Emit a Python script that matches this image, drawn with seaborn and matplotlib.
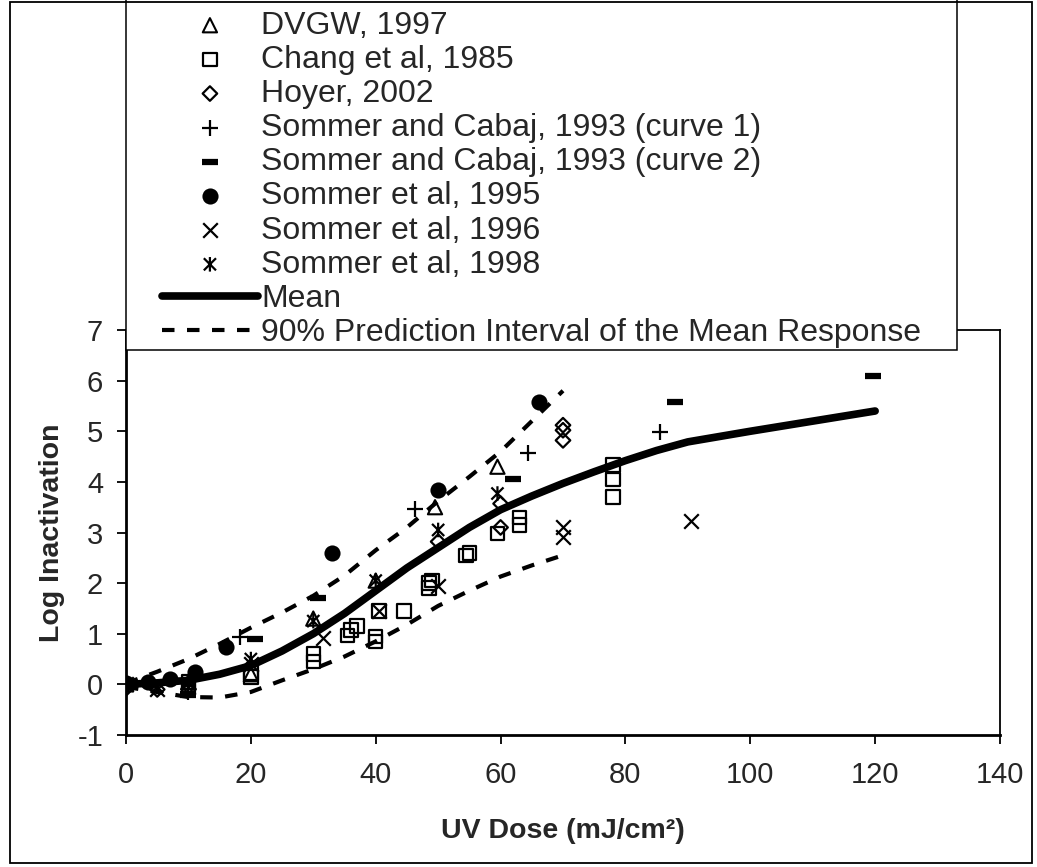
import matplotlib
matplotlib.use('Agg')
import matplotlib.pyplot as plt
import seaborn as sns
import numpy as np
import pandas as pd
from matplotlib.path import Path
from matplotlib.patches import Rectangle
from matplotlib.lines import Line2D

# Data
dvgw_x = [0, 10, 20, 30, 40, 49.5, 59.5]
dvgw_y = [0, 0.05, 0.2, 1.3, 2.05, 3.5, 4.3]

chang_x = [10, 10, 20, 20, 30, 30, 35.5, 36, 37, 40, 40, 40.5, 44.5, 48.5, 48.5, 49, 54.5, 55, 59.5, 63, 63, 78, 78, 78]
chang_y = [0.05, -0.05, 0.15, 0.22, 0.45, 0.6, 0.97, 1.07, 1.15, 0.85, 0.95, 1.45, 1.45, 1.9, 2.0, 2.05, 2.55, 2.6, 2.98, 3.15, 3.3, 3.7, 4.05, 4.33]

hoyer_x = [0, 5, 10, 50, 60, 60, 70, 70, 70]
hoyer_y = [-0.08, -0.1, -0.1, 2.82, 3.1, 3.57, 4.82, 5.02, 5.12]

cabaj1_x = [0, 10, 18.3, 46.3, 64.4, 85.5]
cabaj1_y = [0, -0.15, 0.93, 3.47, 4.58, 4.98]

cabaj2_x = [0, 10, 20.7, 30.8, 62, 88, 119.7]
cabaj2_y = [0, -0.2, 0.9, 1.71, 4.05, 5.57, 6.1]

s1995_x = [0, 3.5, 7, 11, 16, 33, 50, 66.2]
s1995_y = [0.02, 0.05, 0.1, 0.24, 0.73, 2.6, 3.84, 5.58]

s1996_x = [0, 5, 10, 20, 31.5, 40.5, 50, 70, 70, 90.5]
s1996_y = [0, -0.1, -0.05, 0.4, 0.92, 1.45, 1.95, 2.92, 3.1, 3.22]

s1998_x = [0, 5, 10, 20, 30, 40, 50, 59.5]
s1998_y = [0, -0.05, 0.02, 0.5, 1.25, 2.05, 3.05, 3.77]

mean_x = [0, 5, 10, 15, 20, 25, 30, 35, 40, 45, 50, 55, 60, 65, 70, 75, 80, 85, 90, 100, 110, 120]
mean_y = [0, 0.03, 0.08, 0.2, 0.37, 0.66, 1.0, 1.4, 1.85, 2.3, 2.7, 3.1, 3.45, 3.72, 3.97, 4.2, 4.42, 4.62, 4.79, 5.0, 5.2, 5.4]

pi_x = [0, 5, 10, 15, 20, 25, 30, 35, 40, 45, 50, 55, 60, 65, 70]
upper_y = [0.02, 0.25, 0.5, 0.8, 1.12, 1.42, 1.75, 2.15, 2.65, 3.1, 3.62, 4.1, 4.6, 5.2, 5.8]
lower_y = [-0.05, -0.15, -0.25, -0.26, -0.15, 0.08, 0.3, 0.55, 0.85, 1.18, 1.55, 1.85, 2.13, 2.35, 2.55]

x_ticks = [0, 20, 40, 60, 80, 100, 120, 140]
y_ticks = [-1, 0, 1, 2, 3, 4, 5, 6, 7]

sns.set_style('white')
plt.rcParams['font.family'] = ['Liberation Sans', 'DejaVu Sans']
plt.rcParams['axes.unicode_minus'] = False

# Excel style asterisk: an X with a vertical bar
asterisk = Path([(-1, -1), (1, 1), (-1, 1), (1, -1), (0, -1.2), (0, 1.2)],
                [Path.MOVETO, Path.LINETO, Path.MOVETO, Path.LINETO, Path.MOVETO, Path.LINETO])

fig = plt.figure(figsize=(10.37, 8.67), dpi=100)
ax = fig.add_axes([126 / 1037, 132 / 867, 874 / 1037, 405 / 867])

series = [
    ('DVGW, 1997', dvgw_x, dvgw_y, dict(marker='^', s=105, facecolors='none', edgecolors='black', linewidths=1.5)),
    ('Chang et al, 1985', chang_x, chang_y, dict(marker='s', s=95, facecolors='none', edgecolors='black', linewidths=1.6)),
    ('Hoyer, 2002', hoyer_x, hoyer_y, dict(marker='D', s=55, facecolors='none', edgecolors='black', linewidths=1.6)),
    ('Sommer and Cabaj, 1993 (curve 1)', cabaj1_x, cabaj1_y, dict(marker='+', s=130, color='black', linewidths=1.6)),
    ('Sommer and Cabaj, 1993 (curve 2)', cabaj2_x, cabaj2_y, dict(marker='_', s=120, color='black', linewidths=4.5)),
    ('Sommer et al, 1995', s1995_x, s1995_y, dict(marker='o', s=135, color='black', edgecolors='black', linewidths=0)),
    ('Sommer et al, 1996', s1996_x, s1996_y, dict(marker='x', s=110, color='black', linewidths=1.6)),
    ('Sommer et al, 1998', s1998_x, s1998_y, dict(marker=asterisk, s=110, facecolors='none', edgecolors='black', linewidths=1.6)),
]

handles = []
labels = []
for name, xs, ys, kws in series:
    df = pd.DataFrame({'x': xs, 'y': ys})
    sns.scatterplot(data=df, x='x', y='y', ax=ax, zorder=3, **kws)
    handles.append(ax.collections[-1])
    labels.append(name)

mean_df = pd.DataFrame({'x': mean_x, 'y': mean_y})
sns.lineplot(data=mean_df, x='x', y='y', ax=ax, color='black', lw=5.5, zorder=4,
             solid_capstyle='round', solid_joinstyle='round')

pi_df = pd.DataFrame({'x': pi_x, 'upper': upper_y, 'lower': lower_y})
for col in ['upper', 'lower']:
    sns.lineplot(data=pi_df, x='x', y=col, ax=ax, color='black', lw=3, zorder=4)
    ax.lines[-1].set_dashes((3, 3))
    ax.lines[-1].set_dash_capstyle('butt')

handles.append(Line2D([], [], color='black', lw=5.5))
labels.append('Mean')
handles.append(Line2D([], [], color='black', lw=3, dashes=(3, 3)))
labels.append('90% Prediction Interval of the Mean Response')

ax.set_xlim(0, 140)
ax.set_ylim(-1, 7)
ax.set_xticks(x_ticks)
ax.set_yticks(y_ticks)
ax.tick_params(axis='both', direction='out', length=6.5, width=1.3, pad=10,
               labelsize=21, color='black', bottom=True, left=True)
ax.tick_params(axis='x', pad=12)
for side in ['left', 'bottom']:
    ax.spines[side].set_linewidth(2)
for side in ['top', 'right']:
    ax.spines[side].set_linewidth(1.3)
for sp in ax.spines.values():
    sp.set_color('black')

ax.set_xlabel('UV Dose (mJ/cm²)', fontsize=20.5, fontweight='bold')
ax.set_ylabel('Log Inactivation', fontsize=20.5, fontweight='bold')
ax.xaxis.set_label_coords(0.5, -0.205)
ax.yaxis.set_label_coords(-0.07, 0.5)

# legend box sits on top of the plot area and runs past the top of the chart
fig.add_artist(Rectangle((126 / 1037, 1 - 350 / 867), (957 - 126) / 1037, 360 / 867,
                         transform=fig.transFigure, facecolor='white', edgecolor='black',
                         lw=1.1, zorder=4))
fig.legend(handles, labels, loc='lower left', bbox_to_anchor=(162 / 1037, 1 - 348 / 867),
           frameon=False, borderpad=0, borderaxespad=0, labelspacing=0.13,
           handlelength=3.0, handletextpad=0.1, fontsize=23, scatterpoints=1)

# outer chart border
fig.add_artist(Rectangle((10 / 1037, 4 / 867), 1022 / 1037, 861 / 867,
                         transform=fig.transFigure, facecolor='none', edgecolor='black', lw=1.3, zorder=6))

fig.savefig('out.png', dpi=100)
